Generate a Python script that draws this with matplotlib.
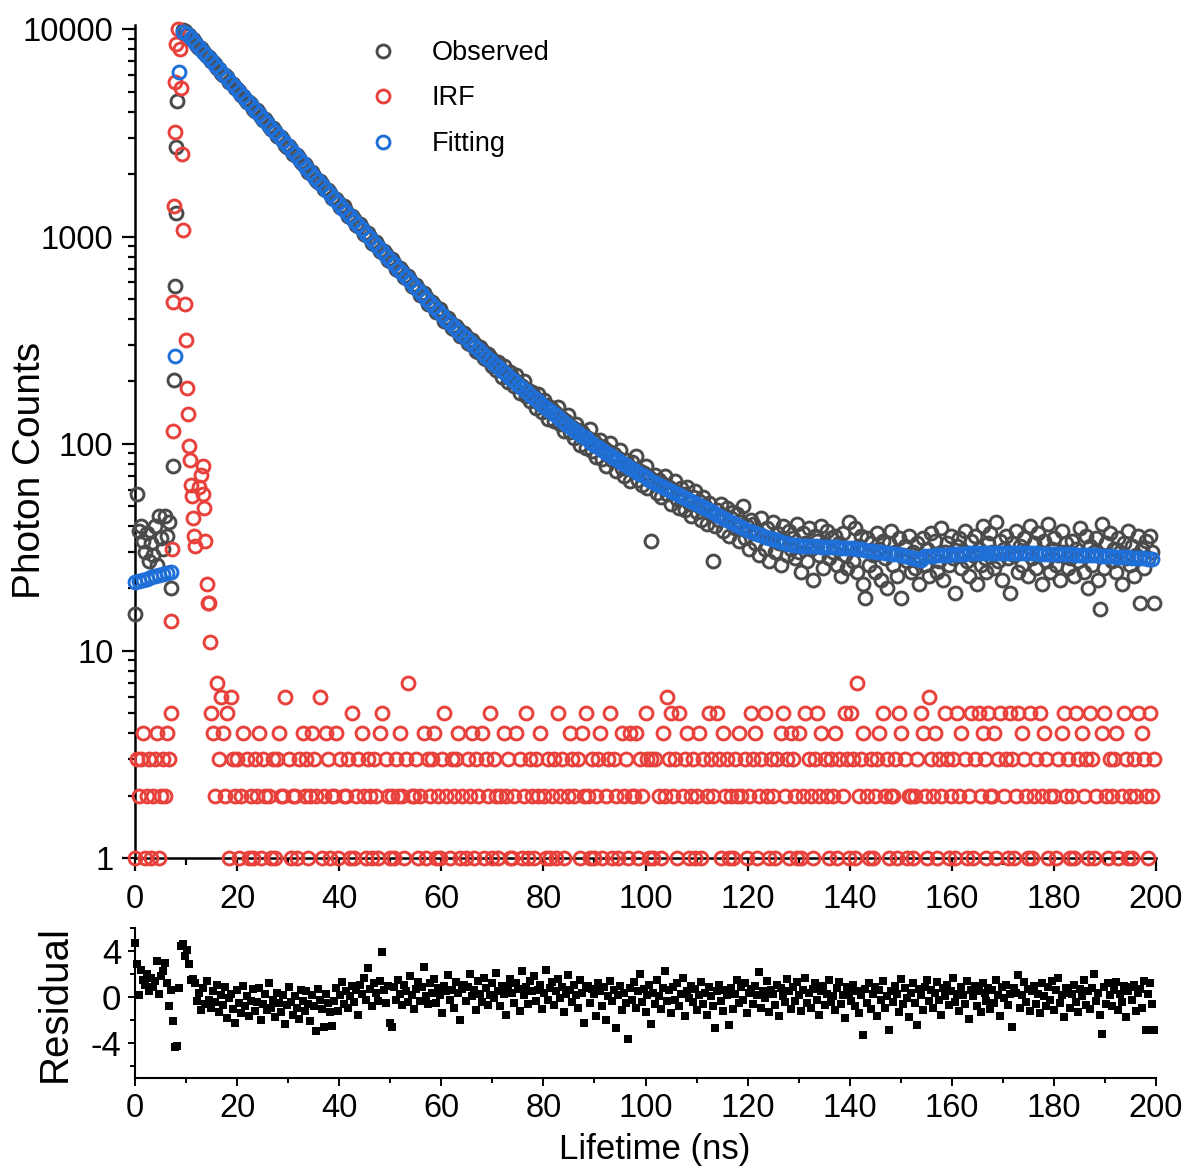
import numpy as np
import matplotlib
matplotlib.use("Agg")
import matplotlib.pyplot as plt
from matplotlib.ticker import MultipleLocator, FixedLocator, NullFormatter, FuncFormatter, LogLocator

plt.rcParams['font.family'] = ['Liberation Sans', 'DejaVu Sans']
plt.rcParams['axes.unicode_minus'] = False

# ---------------- data ----------------
STEP_FINE = 200.0 / 512   # ns per channel (observed, IRF, residual)
STEP_FIT = 200.0 / 256    # ns per fitted point

observed_counts = [
    15, 57, 38, 40, 34, 30, 37, 27, 33, 29, 40, 26, 45, 35, 31, 45, 36, 42, 20,
    0, 0, 0, 0, 0,
    9900, 9780, 9480, 9390, 9010, 8950, 8700, 8340, 8150, 8090, 7900, 7570, 7400, 7330, 7000, 6960,
    6810, 6490, 6450, 6180, 6020, 6030, 5870, 5590, 5500, 5460, 5190, 5180, 5060, 4800, 4790, 4600,
    4480, 4470, 4360, 4150, 4040, 4060, 3940, 3760, 3650, 3690, 3560, 3400, 3310, 3330, 3240, 3070,
    3010, 3020, 2930, 2780, 2720, 2740, 2660, 2510, 2470, 2480, 2400, 2280, 2230, 2250, 2180, 2060,
    2030, 2040, 1970, 1870, 1840, 1850, 1790, 1690, 1670, 1680, 1620, 1530, 1510, 1520, 1470, 1390,
    1370, 1400, 1330, 1260, 1240, 1250, 1210, 1140, 1130, 1150, 1100, 1030, 1020, 1040, 995, 935,
    925, 940, 905, 850, 840, 855, 820, 770, 765, 780, 745, 700, 690, 705, 680, 635, 630, 645, 615, 575,
    570, 585, 560, 522, 520, 535, 510, 475, 472, 485, 465, 432, 430, 445, 425, 392, 390, 405, 388, 360,
    358, 372, 357, 330, 330, 342, 330, 305, 302, 316, 305, 280, 278, 292, 282, 258, 255, 270, 262, 238,
    251, 226, 248, 231, 209, 236, 219, 199, 222, 210,
    189, 214, 196, 175, 190, 201, 170, 181, 160, 178,
    169, 148, 173, 155, 143, 162, 153, 131, 150, 147,
    128, 140, 151, 124, 133, 115, 128, 138, 114, 121,
    106, 124, 117, 99, 114, 110, 95, 107, 118, 92,
    103, 86, 99, 104, 84, 95, 78, 92, 101, 83,
    89, 74, 85, 93, 76, 70, 83, 79, 66, 82,
    75, 87, 67, 74, 63, 72, 78, 61, 69, 34,
    66, 71, 58, 67, 55, 64, 70, 57, 62, 51,
    60, 66, 54, 49, 61, 57, 48, 62, 52, 45,
    55, 59, 47, 53, 43, 55, 50, 41, 52, 46,
    27, 40, 48, 43, 51, 38, 45, 49, 36, 44,
    47, 39, 46, 34, 42, 50, 35, 40, 31, 43,
    41, 33, 38, 29, 44, 36, 31, 39, 27, 35, 42, 30, 37, 33, 26, 40, 34, 29, 38, 31,
    35, 28, 41, 30, 24, 37, 33, 27, 39, 31, 22, 36, 34, 29, 40, 25, 32, 38, 28, 35,
    30, 36, 26, 33, 23, 37, 29, 25, 42, 31, 27, 39, 24, 32, 36, 21, 18, 35, 26, 33,
    29, 24, 37, 31, 22, 34, 28, 20, 33, 38, 26, 30, 23, 35, 18, 29, 32, 27, 36, 24,
    30, 25, 33, 21, 28, 35, 26, 31, 23, 37, 29, 34, 24, 27, 39, 22, 30, 33, 26, 36,
    28, 19, 32, 35, 25, 30, 38, 27, 23, 34, 29, 36, 21, 31, 26, 40, 28, 24, 33, 37,
    30, 25, 42, 27, 34, 22, 31, 36, 28, 19, 33, 29, 38, 24, 32, 26, 35, 30, 23, 40,
    28, 33, 25, 37, 30, 21, 34, 27, 41, 24, 31, 35, 26, 29, 22, 38, 30, 33, 25, 28,
    34, 23, 31, 27, 39, 29, 24, 36, 20, 32, 26, 30, 35, 22, 16, 41, 25, 33, 29, 37,
    27, 31, 24, 35, 30, 21, 33, 28, 38, 26, 32, 23, 29, 36, 17, 31, 25, 34, 28, 36, 30, 17,
]

# rising edge of the observed decay (ns, counts)
obs_peak_time = [7.45, 7.62, 7.78, 7.95, 8.12, 8.30]
obs_peak_counts = [78, 203, 575, 1300, 2700, 4500]

# IRF counts per channel (one digit per channel; 0 = empty channel)
irf_digits = (
    "1323412312341232435"
    "0000000000000000000"
    "542736425163"
    "2312403121" "3241320213" "1342260312" "2130423124" "3206124312"
    "2413022315" "1230421321" "3214503212" "1324213702" "2312041323"
    "4121352013" "2341201324" "1320413251" "3212042311" "2403125132"
    "1324021312" "3152310243" "2031425213" "1234102351" "3210423142"
    "2413205313" "1302142635" "2315023412" "3124130253" "2053142312"
    "1324203125" "3412305213" "2130452314" "3214125032" "1352403213"
    "2413025315" "3172340213" "1234052312" "2315403122" "1230542163"
    "2413205312" "3152403125" "1305243152" "2413502315" "3125043215"
    "1230524312" "0213045231" "2153042315" "3120045213" "2341025312"
    "1325043215" "23"
)
irf_counts = [int(c) for c in irf_digits]

# IRF pulse (ns, counts)
irf_peak_time = [7.05, 7.25, 7.40, 7.50, 7.62, 7.74, 7.86, 7.98, 8.40, 8.90, 9.10, 9.30,
                 9.45, 9.70, 9.90, 10.10, 10.30, 10.55, 10.75, 10.90, 11.15, 11.40, 11.65,
                 11.85, 12.45, 12.95, 13.25, 13.40, 13.60, 13.80, 14.10, 14.25, 14.45, 14.60]
irf_peak_counts = [14, 31, 115, 485, 1400, 3200, 5600, 8500, 10000, 8000, 5200, 2500,
                   1070, 470, 315, 186, 139, 97, 83, 63, 56, 44, 36, 32, 62, 71, 78, 57,
                   49, 34, 21, 17, 17, 11]

fit_counts = [
    21.6, 21.8, 22.0, 22.3, 22.6, 22.9, 23.2, 23.4, 23.7, 24.0,
    265, 6200, 9700,
    9548, 9083, 8642, 8221, 7821, 7441, 7079, 6735, 6408, 6097,
    5801, 5519, 5251, 4996, 4754, 4523, 4304, 4095, 3897, 3708,
    3528, 3358, 3195, 3041, 2894, 2754, 2621, 2494, 2374, 2260,
    2151, 2047, 1949, 1855, 1766, 1681, 1600, 1524, 1451, 1381,
    1315, 1253, 1193, 1136, 1082, 1031, 982, 935, 891, 849,
    809, 771, 735, 700, 667, 636, 607, 578, 551, 526,
    502, 479, 457, 436, 416, 397, 381, 365, 350, 336,
    323, 310, 297, 285, 274, 263, 253, 243, 234, 225,
    216, 208, 200, 193, 186, 179, 172, 166, 160, 154,
    149, 144, 139, 134, 129, 125, 121, 117, 113, 109,
    106, 102, 99, 96, 93, 90.5, 88, 85.4, 83, 80.7,
    78.5, 76.4, 74.3, 72.4, 70.5,
    68.7, 67.1, 65.6, 64.1, 62.7, 61.2, 59.9, 58.5, 57.2, 55.9, 54.6, 53.4, 52.2, 51.0,
    49.9, 48.7, 47.6, 46.6, 45.5, 44.5, 43.5, 42.5, 41.6, 40.6, 39.7, 38.8, 38.0,
    37.4, 36.8, 36.2, 35.6, 35.1, 34.6, 34.1, 33.7, 33.3, 32.9, 32.6, 32.3,
    32.2, 32.1, 32.0, 32.0, 31.9, 31.8, 31.8, 31.7, 31.6, 31.6, 31.5, 31.5, 31.4,
    31.2, 31.0, 30.9, 30.7, 30.5, 30.3, 30.1, 29.9, 29.8, 29.6, 29.4, 29.3, 29.1,
    28.8, 28.5, 28.2, 27.8, 27.5,
    28.6,
    28.7, 28.8, 28.9, 29.0, 29.0, 29.1, 29.2,
    29.3, 29.4, 29.5, 29.6, 29.7, 29.7, 29.8,
    29.8, 29.8, 29.8, 29.8, 29.7, 29.7, 29.7, 29.7, 29.7, 29.6, 29.6, 29.6, 29.6, 29.6, 29.5, 29.5, 29.5,
    29.4, 29.4, 29.3, 29.3, 29.2, 29.2, 29.1, 29.1, 29.0, 29.0, 28.9, 28.9, 28.8, 28.7,
    28.7, 28.6, 28.5, 28.5, 28.4, 28.3, 28.2, 28.2, 28.1, 28.0, 27.9, 27.8,
]

residual_values = [
    4.7, 2.9, 0.2, 2.4, 1.5, 1.1, 2.0, 0.5, 1.7, 0.9, 1.4, 3.1, 0.3, 1.8, 2.3, 3.0, 1.2, -0.8, 0.6,
    -2.1, -4.3, -4.2, 0.8, 4.4, 4.6, 3.6, 4.1, 2.9, 1.5, 1.6,
    1.2, -0.3, 0.4, -1.1, 0.8, -0.6, 1.4, -0.2, -0.9, 0.5,
    -0.4, 1.1, -1.3, 0.2, -0.7, 0.9, -1.8, -0.1, 0.3, -1.0,
    -2.2, 0.6, -0.5, -1.4, 1.0, -0.8, 0.1, -1.6, -0.3, 0.7,
    -1.2, -0.4, 0.8, -2.0, -0.6, 0.3, -1.1, 1.2, -0.9, -0.2,
    -1.7, 0.4, -0.5, -1.3, 0.2, -2.3, -0.7, 0.9, -0.4, -1.5,
    0.1, -0.9, -1.9, 0.6, -0.3, -1.2, 0.5, -0.6, -2.1, 0.2,
    -0.8, -2.9, 0.7, -0.2, -1.0, -2.6, 0.3, -0.5, -1.3, -2.5,
    -0.3, 0.8, -1.2, 0.2, 1.3, -0.6, 0.5, -0.9, 0.1, 1.0,
    -0.4, 0.6, -1.5, 1.1, 0.3, 1.7, -0.2, 2.5, 0.7, -0.8,
    1.2, 0.4, -0.3, 1.4, 3.9, 0.6, -0.5, 1.0, -2.2, -2.6,
    0.9, -0.2, 1.5, 0.3, -0.7, 1.1, 0.5, -0.4, 1.8, 0.2,
    -1.0, 0.7, 1.3, -0.3, 0.9, 2.6, 0.1, -0.6, 1.2, 0.4,
    1.6, -0.5, 0.8, 0.2, -1.4, 1.0, 0.5, 1.9, -0.2, 0.6,
    -0.9, 1.3, 0.4, -2.0, 0.7, 1.1, -0.3, 0.9, 2.0, 0.1,
    0.6, -1.1, 1.4, 0.3, -0.4, 1.7, 0.8, -0.7, 0.2, 1.2,
    -0.1, 2.1, 0.5, -0.8, 1.0, 0.3, -1.5, 0.9, 1.6, 0.4,
    -0.5, 1.2, 0.7, -1.2, 2.3, 0.2, 0.9, -0.6, 1.4, 0.5,
    1.8, -0.3, 0.6, 1.1, -1.0, 0.4, 2.4, -0.2, 0.8, 1.3,
    -0.7, 0.5, 1.6, -0.1, 0.9, -1.3, 0.3, 1.9, 0.6, -0.4,
    1.1, 0.2, -0.9, 1.5, 0.4, -2.2, 0.8, 1.0, -0.5, 0.7,
    0.3, -1.6, 1.2, 0.5, -0.8, 0.9, -2.0, 0.1, 1.4, -0.3,
    0.6, -2.7, 0.2, 1.0, -1.1, 0.4, -0.5, -3.6, 0.8, -0.2,
    1.3, -0.9, 0.5, 2.0, -0.4, 0.7, -1.3, 0.2, 1.1, -2.3,
    0.4, -0.6, 1.5, 0.1, -1.0, 0.8, 2.3, -0.3, 0.6, -1.4,
    0.9, -0.2, 1.2, -0.8, 0.3, 1.7, -1.6, 0.5, -0.1, 1.0,
    -0.4, 0.7, -1.1, 0.2, 1.3, -0.6, 0.4, -1.5, 0.9, 0.1,
    -0.8, -2.7, 0.5, 1.1, -0.3, -1.2, 0.6, 0.2, -2.4, 0.8,
    -1.0, 0.3, 1.5, -0.5, 0.9, -0.2, 1.2, -1.4, 0.4, 0.7,
    -0.6, 1.0, 0.2, 2.2, -0.9, 0.5, -0.1, 1.4, -1.3, 0.6,
    0.3, -0.7, 1.1, -1.6, 0.8, 0.1, -0.4, 1.6, 0.5, -1.0,
    0.9, -0.3, 1.3, 0.2, -1.2, 0.6, 1.7, -0.5, 0.4, -0.9,
    0.7, 1.2, -0.2, -1.5, 0.5, 1.0, -0.7, 0.3, 1.5, -0.4,
    0.1, -1.1, 0.8, 1.3, -0.6, 0.2, -1.8, 0.9, 0.4, -0.3,
    1.1, -0.8, 0.5, -1.4, 0.2, -3.3, 0.7, -0.5, 1.2, -1.0,
    0.3, 0.9, -1.6, 0.6, -0.2, 1.4, -0.9, 0.1, -2.8, 0.5,
    -0.4, 1.0, 0.3, -1.3, 1.6, -0.6, 0.8, -0.1, -1.7, 0.4,
    1.2, -0.5, -2.4, 0.7, 0.2, -1.1, 0.9, 1.5, -0.3, 0.6,
    -0.9, 0.4, 1.3, -0.2, -1.5, 0.8, 0.1, 1.1, -0.7, 0.5,
    1.7, -0.4, 0.3, -1.2, 0.9, 0.2, -0.6, 1.4, -1.9, 0.6,
    0.1, 1.0, -0.8, 0.5, -1.3, 1.2, 0.4, -0.3, 0.8, -1.0,
    0.6, -0.5, 1.5, 0.2, -1.6, 0.9, -0.1, 1.1, -0.7, 0.3,
    -2.6, 0.8, 0.4, 1.9, -0.9, 0.2, 1.3, -0.4, 0.7, -1.2,
    0.5, 1.0, -0.6, 0.3, -1.4, 1.2, 0.1, -0.8, 0.9, -0.2,
    1.4, -1.1, 0.6, 1.7, -0.5, 0.2, -1.7, 0.8, 0.4, -0.9,
    0.3, 1.1, -0.4, -1.3, 0.7, 0.1, 1.5, -0.7, 0.5, -1.0,
    0.8, 2.0, -0.3, 0.4, -1.5, -3.2, 0.9, -0.6, 1.2, 0.2,
    -0.8, 0.6, 1.3, -1.1, 0.3, -0.4, 1.0, -1.7, 0.5, 0.9,
    -0.2, 1.1, -1.2, 0.4, 0.7, -0.9, 1.4, -2.8, 0.3, 1.2, -0.6, -2.8,
]

x_ticks = [0, 20, 40, 60, 80, 100, 120, 140, 160, 180, 200]
y_ticks = [1, 10, 100, 1000, 10000]
res_ticks = [-4, 0, 4]
legend_labels = ["Observed", "IRF", "Fitting"]

assert len(observed_counts) == 512, len(observed_counts)
assert len(irf_counts) == 512, len(irf_counts)
assert len(residual_values) == 512, len(residual_values)
assert len(fit_counts) == 256, len(fit_counts)

# ---------------- assemble ----------------
t_fine = np.arange(512) * STEP_FINE
t_fit = np.arange(256) * STEP_FIT

obs = np.array(observed_counts, float)
irf = np.array(irf_counts, float)
m_obs = obs > 0
m_irf = irf > 0
obs_t = np.concatenate([t_fine[m_obs], obs_peak_time])
obs_y = np.concatenate([obs[m_obs], obs_peak_counts])
irf_t = np.concatenate([t_fine[m_irf], irf_peak_time])
irf_y = np.concatenate([irf[m_irf], irf_peak_counts])

GRAY = '#4b4b4b'
RED = '#e8413c'
BLUE = '#1f6fd8'

W, H = 1189, 1171
fig = plt.figure(figsize=(W / 100, H / 100), dpi=100)

def frac(x0, y0, x1, y1):
    return [x0 / W, 1 - y1 / H, (x1 - x0) / W, (y1 - y0) / H]

ax = fig.add_axes(frac(135, 25, 1156, 858))
ax.set_yscale('log')
ax.set_xlim(0, 200)
ax.set_ylim(1, 10500)

ms, mew = 9.3, 2.1
h1, = ax.plot(obs_t, obs_y, 'o', ls='none', mfc='none', mec=GRAY, ms=ms, mew=mew, clip_on=False, zorder=3)
h2, = ax.plot(irf_t, irf_y, 'o', ls='none', mfc='none', mec=RED, ms=ms, mew=mew, clip_on=False, zorder=4)
h3, = ax.plot(t_fit, fit_counts, 'o', ls='none', mfc='none', mec=BLUE, ms=ms, mew=mew, clip_on=False, zorder=5)

for s in ('top', 'right'):
    ax.spines[s].set_visible(False)
for s in ('left', 'bottom'):
    ax.spines[s].set_linewidth(1.8)

ax.xaxis.set_major_locator(FixedLocator(x_ticks))
ax.xaxis.set_minor_locator(MultipleLocator(10))
ax.yaxis.set_major_locator(FixedLocator(y_ticks))
ax.yaxis.set_minor_locator(LogLocator(base=10, subs=np.arange(2, 10)))
ax.yaxis.set_major_formatter(FuncFormatter(lambda v, p: f"{int(round(v))}"))
ax.yaxis.set_minor_formatter(NullFormatter())
ax.tick_params(which='major', direction='out', length=9.5, width=1.6, labelsize=23.5, pad=6)
ax.tick_params(axis='x', which='major', pad=9)
ax.tick_params(which='minor', direction='out', length=5, width=1.6)

leg = ax.legend([h1, h2, h3], legend_labels, loc='upper left', bbox_to_anchor=(0.2297, 0.982),
                frameon=False, fontsize=19.5, handlelength=1.0, handletextpad=1.3,
                labelspacing=0.72, borderpad=0, borderaxespad=0, markerscale=1.0)

# residual panel
ax2 = fig.add_axes(frac(135, 928, 1156, 1078))
ax2.set_xlim(0, 200)
ax2.set_ylim(-7, 6)
ax2.plot(t_fine, residual_values, 's', ls='none', color='black', ms=5.6, mew=0, clip_on=False)
for s in ('top', 'right'):
    ax2.spines[s].set_visible(False)
for s in ('left', 'bottom'):
    ax2.spines[s].set_linewidth(1.5)
ax2.xaxis.set_major_locator(FixedLocator(x_ticks))
ax2.xaxis.set_minor_locator(MultipleLocator(10))
ax2.yaxis.set_major_locator(FixedLocator(res_ticks))
ax2.yaxis.set_minor_locator(FixedLocator([-6, -2, 2, 6]))
ax2.tick_params(axis='x', which='major', direction='out', length=5.5, width=1.4, labelsize=23.5, pad=5)
ax2.tick_params(axis='x', which='minor', direction='out', length=3.5, width=1.4)
ax2.tick_params(axis='y', which='major', direction='out', length=5, width=1.4, labelsize=25, pad=5)
ax2.tick_params(axis='y', which='minor', direction='out', length=3.5, width=1.4)

fig.text(30 / W, 1 - 470 / H, 'Photon Counts', rotation=90, ha='center', va='center', fontsize=28)
fig.text(55 / W, 1 - 1003 / H, 'Residual', rotation=90, ha='center', va='center', fontsize=29)
fig.text(655 / W, 1 - 1150 / H, 'Lifetime (ns)', ha='center', va='center', fontsize=25)

fig.savefig('out.png', dpi=100)
